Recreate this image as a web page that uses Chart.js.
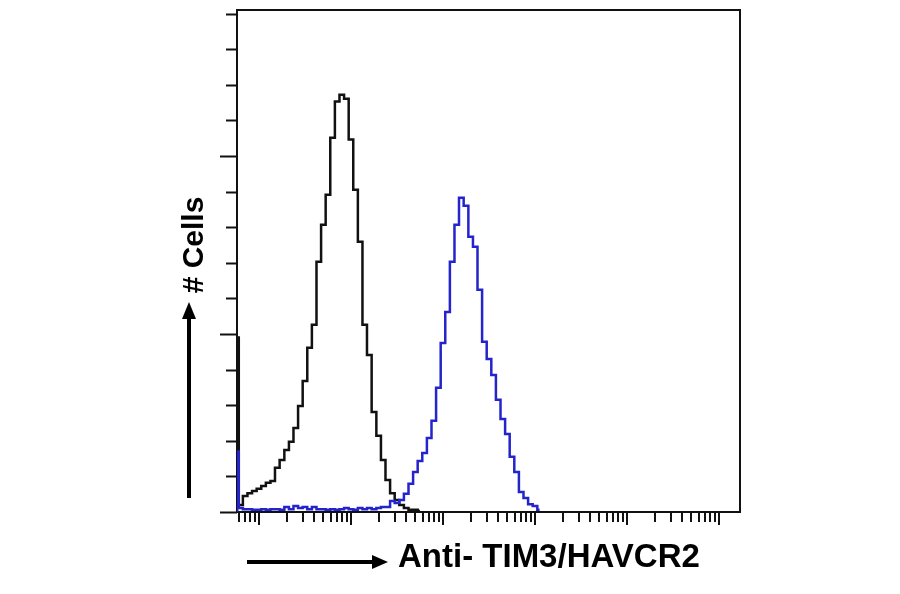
<!DOCTYPE html>
<html>
<head>
<meta charset="utf-8">
<title>Anti- TIM3/HAVCR2</title>
<script src="https://cdn.jsdelivr.net/npm/chart.js@4.4.1/dist/chart.umd.min.js"></script>
<style>
  html, body { margin: 0; padding: 0; background: #fff; }
  #chart { display: block; }
</style>
</head>
<body>
<canvas id="chart" width="900" height="594"></canvas>
<script>
// Intensité de fluorescence (échelle log), un canal tous les 0.05 décade
const channels = [0.577, 0.631, 0.708, 0.794, 0.891, 1, 1.12, 1.26, 1.41, 1.58, 1.78, 2.0, 2.24, 2.51, 2.82, 3.16, 3.55, 3.98, 4.47, 5.01,
  5.62, 6.31, 7.08, 7.94, 8.91, 10, 11.2, 12.6, 14.1, 15.8, 17.8, 20.0, 22.4, 25.1, 28.2, 31.6, 35.5, 39.8, 44.7, 50.1,
  56.2, 63.1, 70.8, 79.4, 89.1, 100, 112, 126, 141, 158, 178, 200, 224, 251, 282, 316, 355, 398, 447, 501,
  562, 631, 708, 794, 891, 1000, 1122];

// Contrôle isotype (noir)
const isotypeCounts = [49, 2.0, 4.5, 5.3, 5.9, 6.5, 7.3, 8.2, 8.7, 12.4, 14.6, 17.4, 19.7, 23.6, 29.8, 36.8, 46.1, 52.6, 70.3, 80.7,
  89.1, 105.1, 115.3, 117.2, 116.1, 104.6, 90.5, 75.9, 52.6, 44.1, 28.1, 21.4, 14.6, 9.0, 5.3, 3.4, 2.0, 1.1, 0.6, 0.6,
  0.3, null, null, null, null, null, null, null, null, null, null, null, null, null, null, null, null, null, null, null,
  null, null, null, null, null, null, null];

// Anti-TIM3/HAVCR2 (bleu)
const tim3Counts = [17, 1.1, 0.8, 0.8, 0.6, 0.6, 0.8, 0.6, 0.8, 0.8, 0.6, 1.4, 0.8, 1.7, 1.1, 1.4, 0.8, 1.4, 0.8, 0.8,
  0.6, 0.8, 0.6, 0.8, 1.1, 0.8, 0.6, 1.1, 0.8, 1.1, 0.8, 1.1, 1.4, 1.4, 3.1, 2.5, 3.4, 5.1, 7.9, 11.2,
  14.3, 16.6, 20.8, 25.6, 34.9, 47.5, 56.2, 70.3, 80.7, 88.3, 86.0, 77.3, 74.5, 62.4, 47.8, 43.0, 38.5, 31.5, 26.1, 21.9,
  15.5, 11.2, 5.6, 3.9, 2.2, 1.7, 0.6];

// Graduations
const yTicks = [0, 10, 20, 30, 40, 50, 60, 70, 80, 90, 100, 110, 120, 130, 140];
const yMajorEvery = 50;
const xDecades = [0.1, 1, 10, 100, 1000, 10000, 100000];
const xMin = 0.577;
const xMax = 169000;

const xTitle = 'Anti- TIM3/HAVCR2';
const yTitle = '# Cells';

function toPoints(counts) {
  const pts = [{ x: channels[0], y: 0 }];
  counts.forEach((c, i) => pts.push({ x: channels[i], y: c }));
  return pts;
}

// Cadre, graduations, flèches et titres des axes
const decorPlugin = {
  id: 'decor',
  beforeDatasetsDraw(chart) {
    const { ctx, chartArea: a, scales: { x, y } } = chart;
    ctx.save();
    ctx.strokeStyle = '#111';
    ctx.lineWidth = 2;
    ctx.strokeRect(a.left, a.top, a.right - a.left, a.bottom - a.top);

    yTicks.forEach(v => {
      const py = Math.round(y.getPixelForValue(v)) + 0.5;
      const len = v % yMajorEvery === 0 ? 17 : 11;
      ctx.beginPath();
      ctx.moveTo(a.left - len, py);
      ctx.lineTo(a.left, py);
      ctx.stroke();
    });

    xDecades.forEach(d => {
      for (let m = 1; m <= 9; m++) {
        const v = m * d;
        if (v < xMin || v > xMax) continue;
        const px = Math.round(x.getPixelForValue(v));
        const len = m === 1 ? 13 : 10;
        ctx.beginPath();
        ctx.moveTo(px, a.bottom);
        ctx.lineTo(px, a.bottom + len);
        ctx.stroke();
      }
    });
    ctx.restore();
  },
  afterDraw(chart) {
    const { ctx } = chart;
    ctx.save();
    ctx.fillStyle = '#000';
    ctx.strokeStyle = '#000';
    ctx.lineWidth = 4;

    // flèche horizontale
    ctx.beginPath();
    ctx.moveTo(247, 562);
    ctx.lineTo(376, 562);
    ctx.stroke();
    ctx.beginPath();
    ctx.moveTo(388, 562);
    ctx.lineTo(372, 555);
    ctx.lineTo(372, 569);
    ctx.closePath();
    ctx.fill();

    // flèche verticale
    ctx.beginPath();
    ctx.moveTo(189, 498);
    ctx.lineTo(189, 316);
    ctx.stroke();
    ctx.beginPath();
    ctx.moveTo(189, 302);
    ctx.lineTo(182, 319);
    ctx.lineTo(196, 319);
    ctx.closePath();
    ctx.fill();

    ctx.font = 'bold 33px "Liberation Sans", Arial, sans-serif';
    ctx.textAlign = 'left';
    ctx.textBaseline = 'alphabetic';
    ctx.fillText(xTitle, 398, 567);

    ctx.translate(203, 245);
    ctx.rotate(-Math.PI / 2);
    ctx.font = 'bold 30px "Liberation Sans", Arial, sans-serif';
    ctx.textAlign = 'center';
    ctx.fillText(yTitle, 0, 0);
    ctx.restore();
  }
};

function createHistogram() {
  const ctx = document.getElementById('chart').getContext('2d');
  new Chart(ctx, {
    type: 'line',
    data: {
      datasets: [{
        label: 'Isotype',
        data: toPoints(isotypeCounts),
        borderColor: '#111111',
        borderWidth: 2.5,
        stepped: 'middle',
        pointRadius: 0,
        spanGaps: false,
        order: 1
      }, {
        label: 'Anti- TIM3/HAVCR2',
        data: toPoints(tim3Counts),
        borderColor: '#2424cc',
        borderWidth: 2.5,
        stepped: 'middle',
        pointRadius: 0,
        order: 0
      }]
    },
    options: {
      responsive: false,
      animation: false,
      devicePixelRatio: 1,
      layout: { padding: { left: 237, top: 10, right: 160, bottom: 82 } },
      plugins: {
        legend: { display: false },
        tooltip: { enabled: false }
      },
      scales: {
        x: { type: 'logarithmic', min: xMin, max: xMax, display: false },
        y: { type: 'linear', min: 0, max: 141, display: false }
      }
    },
    plugins: [decorPlugin]
  });
}

createHistogram();
</script>
</body>
</html>
